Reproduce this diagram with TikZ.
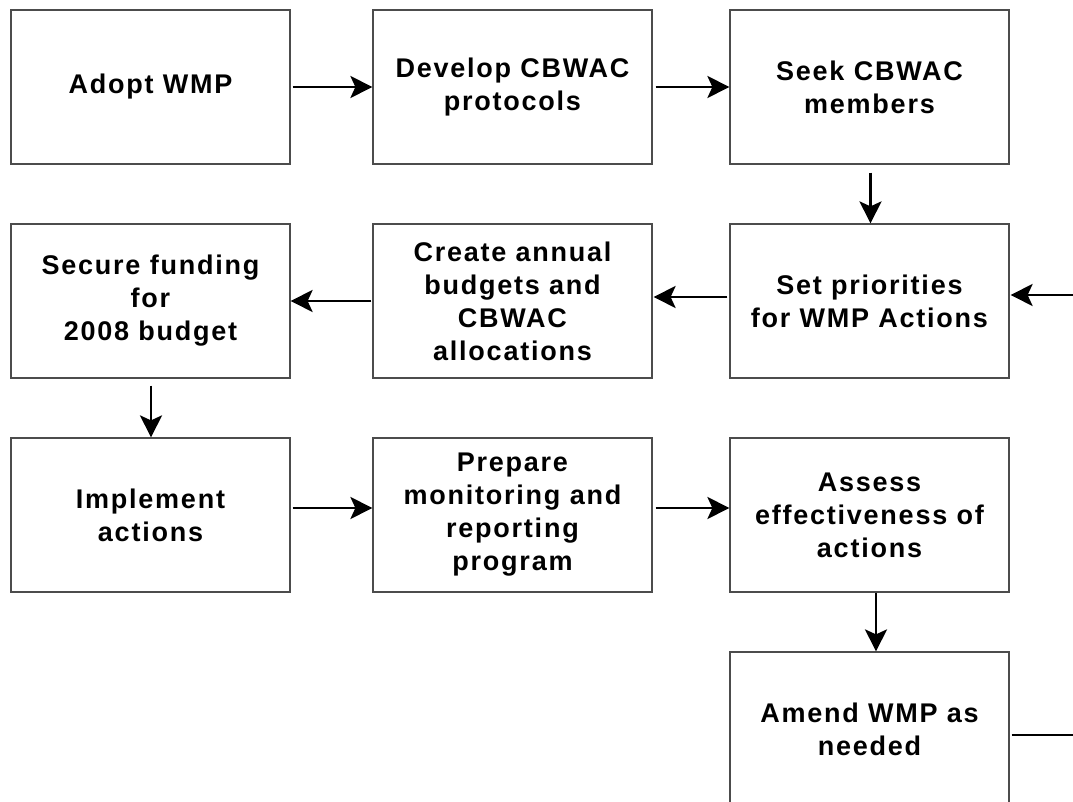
\documentclass[tikz,border=0pt]{standalone}
\usepackage{fontspec}
\setmainfont{Liberation Sans}[LetterSpace=6.5]
\usetikzlibrary{arrows.meta,calc}
\tikzset{
  box/.style={draw=black!70, line width=0.6pt, minimum width=139.5pt, minimum height=77pt,
    align=center, inner sep=0pt, font=\fontsize{13.5}{16.5}\selectfont\bfseries},
  flow/.style={line width=1.3pt, -{Stealth[length=11pt,width=11pt,inset=2.5pt]}},
  plain/.style={line width=1.4pt}
}
\begin{document}
\begin{tikzpicture}[x=0.5pt,y=-0.5pt]
\useasboundingbox (0,0) rectangle (1073,802);
\clip (0,0) rectangle (1073,802);
% row 1
\node[box] (a1) at (150.5,87) {Adopt WMP};
\node[box] (a2) at (512.5,87) {Develop CBWAC\\protocols};
\node[box] (a3) at (869.5,87) {Seek CBWAC\\members};
% row 2
\node[box] (b1) at (150.5,301) {Secure funding\\for\\2008 budget};
\node[box] (b2) at (512.5,301) {Create annual\\budgets and\\CBWAC\\allocations};
\node[box] (b3) at (869.5,301) {Set priorities\\for WMP Actions};
% row 3
\node[box] (c1) at (150.5,515) {Implement\\actions};
\node[box] (c2) at (512.5,515) {Prepare\\monitoring and\\reporting\\program};
\node[box] (c3) at (869.5,515) {Assess\\effectiveness of\\actions};
% row 4
\node[box] (d3) at (869.5,729) {Amend WMP as\\needed};
% free ends
\coordinate (inR) at (1073,295);
\coordinate (outR) at (1073,735);
% connectors
\draw[flow] ($(a1.east)+(2,0)$) -- (a2.west);
\draw[flow] ($(a2.east)+(3,0)$) -- (a3.west);
\draw[flow] ($(a3.south)+(1,8)$) -- ($(b3.north)+(1,0)$);
\draw[flow] ($(b3.west)+(-2,-4)$) -- ($(b2.east)+(1,-4)$);
\draw[flow] ($(b2.west)+(-1,0)$) -- ($(b1.east)+(0,0)$);
\draw[flow] (inR) -- ($(b3.east)+(1,-6)$);
\draw[flow] ($(b1.south)+(0.5,7)$) -- ($(c1.north)+(0.5,0)$);
\draw[flow] ($(c1.east)+(2,-7)$) -- ($(c2.west)+(0,-7)$);
\draw[flow] ($(c2.east)+(3,-7)$) -- ($(c3.west)+(0,-7)$);
\draw[flow] ($(c3.south)+(6.5,0)$) -- ($(d3.north)+(6.5,0)$);
\draw[plain] ($(d3.east)+(2,6)$) -- (outR);
\end{tikzpicture}
\end{document}
